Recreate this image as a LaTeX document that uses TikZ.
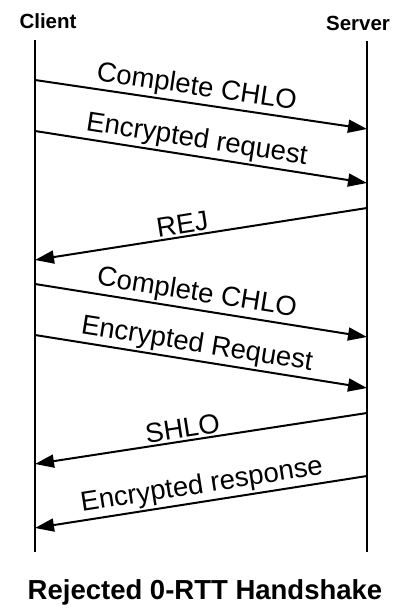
\documentclass[tikz,border=0pt]{standalone}
\usepackage{fontspec}
\setmainfont{Liberation Sans}
\usetikzlibrary{arrows.meta}
\begin{document}
\begin{tikzpicture}[x=1pt, y=-1pt, line width=2pt,
   msg/.style = {-{Triangle[length=19pt,width=13pt]}},
   lbl/.style = {font=\fontsize{27.5}{32}\selectfont, sloped, above, inner sep=2pt},
   head/.style = {font=\bfseries\fontsize{20.5}{24}\selectfont}]
   \useasboundingbox (0,0) rectangle (408,614);
   \node[head] (client) at (48,21) {Client};
   \node[head] (server) at (358,23) {Server};
   \coordinate (ctop) at (35,40);
   \coordinate (cbot) at (35,552);
   \coordinate (stop) at (367,41);
   \coordinate (sbot) at (367,552);
   \draw (ctop) -- (cbot);
   \draw (stop) -- (sbot);
   \coordinate (c1) at (35,80);  \coordinate (s1) at (367,129);
   \coordinate (c2) at (35,131); \coordinate (s2) at (367,183);
   \coordinate (s3) at (367,208); \coordinate (c3) at (35,260);
   \coordinate (c4) at (35,284); \coordinate (s4) at (367,337);
   \coordinate (c5) at (35,335); \coordinate (s5) at (367,388);
   \coordinate (s6) at (367,413); \coordinate (c6) at (35,464);
   \coordinate (s7) at (367,476); \coordinate (c7) at (35,528);
   \draw[msg] (c1) to node[lbl, pos=0.48] {Complete CHLO} (s1);
   \draw[msg] (c2) to node[lbl, pos=0.48] {Encrypted request} (s2);
   \draw[msg] (s3) to node[lbl, pos=0.55] {REJ} (c3);
   \draw[msg] (c4) to node[lbl, pos=0.48] {Complete CHLO} (s4);
   \draw[msg] (c5) to node[lbl, pos=0.48] {Encrypted Request} (s5);
   \draw[msg] (s6) to node[lbl, pos=0.55] {SHLO} (c6);
   \draw[msg] (s7) to node[lbl, pos=0.49] {Encrypted response} (c7);
   \node[font=\bfseries\fontsize{27.5}{32}\selectfont] (title) at (205,592) {Rejected 0-RTT Handshake};
\end{tikzpicture}
\end{document}
